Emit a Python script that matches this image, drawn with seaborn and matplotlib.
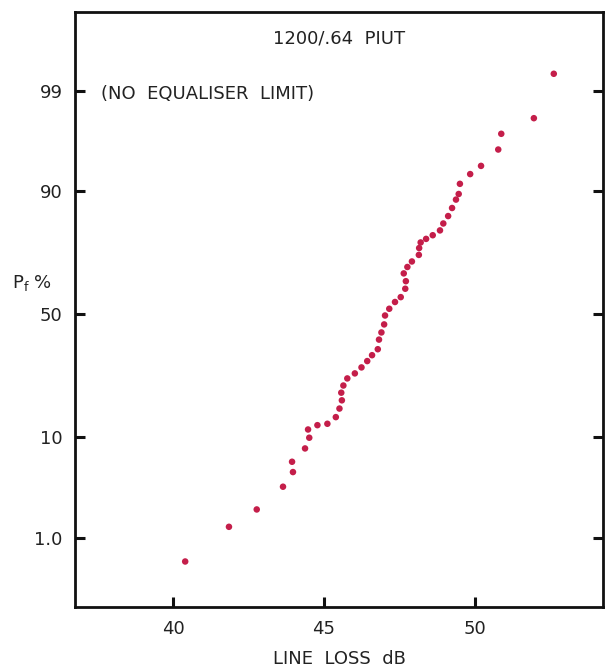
import matplotlib
matplotlib.use("Agg")
import matplotlib.pyplot as plt
import seaborn as sns
import pandas as pd
from statistics import NormalDist

# Data (normal probability plot)
line_loss_db = [40.40, 41.85, 42.77, 43.64, 43.97, 43.94, 44.37, 44.51, 44.47, 44.78,
                45.11, 45.39, 45.51, 45.59, 45.57, 45.64, 45.77, 46.02, 46.24, 46.43,
                46.59, 46.78, 46.82, 46.90, 46.99, 47.02, 47.16, 47.35, 47.54, 47.69,
                47.71, 47.64, 47.76, 47.91, 48.14, 48.15, 48.20, 48.38, 48.60, 48.84,
                48.95, 49.11, 49.24, 49.37, 49.46, 49.50, 49.84, 50.20, 50.77, 50.87,
                51.95, 52.61]
pf_percent = [0.50, 1.34, 2.10, 3.62, 5.01, 6.22, 8.11, 9.92, 11.5, 12.4,
              12.7, 14.2, 16.3, 18.5, 20.7, 22.9, 25.2, 26.9, 29.0, 31.3,
              33.5, 35.8, 39.6, 42.5, 45.8, 49.5, 52.3, 55.1, 57.1, 60.5,
              63.5, 66.5, 68.9, 70.9, 73.2, 75.5, 77.3, 78.4, 79.5, 80.9,
              82.8, 84.7, 86.6, 88.4, 89.5, 91.3, 92.8, 93.9, 95.7, 97.0,
              97.95, 99.39]
y_tick_values = [1.0, 10, 50, 90, 99]
y_tick_labels = ["1.0", "10", "50", "90", "99"]
x_tick_values = [40, 45, 50]

nd = NormalDist()
df = pd.DataFrame({
    "loss": line_loss_db,
    "z": [nd.inv_cdf(p / 100.0) for p in pf_percent],
})

sns.set_theme(style="white")
plt.rcParams["font.family"] = ["DejaVu Sans"]

fig = plt.figure(figsize=(6.10, 6.69), dpi=100)
ax = fig.add_axes([75 / 610, 62 / 669, 528 / 610, 595 / 669])

sns.scatterplot(data=df, x="loss", y="z", ax=ax, color="#c41e4a",
                s=22, edgecolor="none", linewidth=0, legend=False)

ax.set_xlim(36.75, 54.24)
ax.set_ylim(-3.05, 3.15)

ax.set_xticks(x_tick_values)
ax.set_xticklabels([str(v) for v in x_tick_values])
ax.set_yticks([nd.inv_cdf(v / 100.0) for v in y_tick_values])
ax.set_yticklabels(y_tick_labels)

ax.tick_params(axis="both", direction="in", length=7, width=2.2, color="#111111",
               labelsize=13, labelcolor="#222222", pad=9)
ax.tick_params(axis="y", right=True, left=True, labelright=False)
ax.tick_params(axis="x", bottom=True, top=False)

for sp in ax.spines.values():
    sp.set_color("#111111")
    sp.set_linewidth(2.0)

ax.set_xlabel("LINE  LOSS  dB", fontsize=13, color="#222222", labelpad=9)
ax.set_ylabel("")

ax.text(0.5, 0.955, "1200/.64  PIUT", transform=ax.transAxes, ha="center", va="center",
        fontsize=13, color="#222222")
ax.text(0.05, 0.862, "(NO  EQUALISER  LIMIT)", transform=ax.transAxes, ha="left",
        va="center", fontsize=13, color="#222222")
fig.text(12 / 610, 1 - 283 / 669, r"P$_\mathrm{f}$ %", ha="left", va="center",
         fontsize=13, color="#222222")

ax.grid(False)
fig.savefig("out.png", dpi=100, facecolor="white")
